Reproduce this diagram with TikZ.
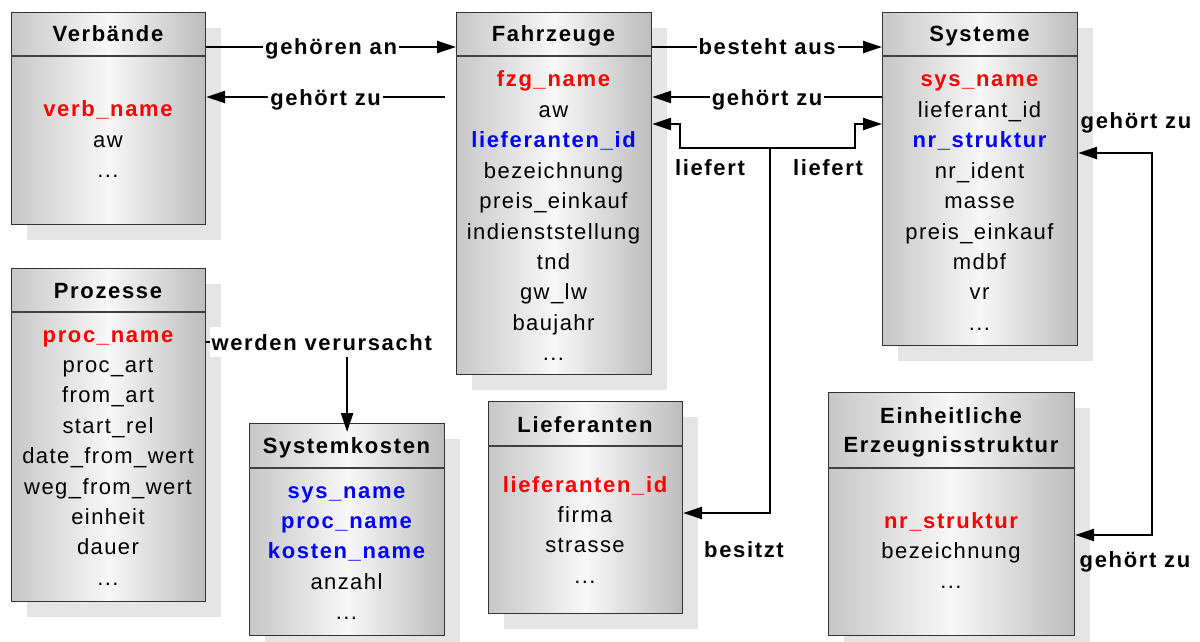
\documentclass[tikz,border=0pt]{standalone}
\usepackage{fontspec}
\setmainfont{Liberation Sans}[LetterSpace=6.5, BoldFeatures={LetterSpace=7.5}]
\usetikzlibrary{arrows.meta,shadows}

\definecolor{keyred}{RGB}{255,0,0}
\definecolor{keyblue}{RGB}{0,0,255}
\definecolor{shadowgray}{RGB}{229,229,229}

\newcommand{\tabfont}{\fontsize{11pt}{13.2pt}\selectfont}
\newcommand{\pk}[1]{\textcolor{keyred}{\bfseries #1}}
\newcommand{\fk}[1]{\textcolor{keyblue}{\bfseries #1}}
\newcommand{\moredots}{...}

\tikzset{
  tblbox/.style={rectangle, draw=black!80, line width=0.6pt, anchor=north west,
    inner sep=0pt, left color=black!22, right color=black!26, middle color=black!3,
    drop shadow={shadow xshift=7.5pt, shadow yshift=-7.5pt, fill=shadowgray, opacity=1}},
  hdrline/.style={draw=black!75, line width=0.6pt},
  title/.style={font=\tabfont\bfseries, anchor=base, inner sep=0pt},
  cell/.style={font=\tabfont, anchor=base, inner sep=0pt},
  tip/.style={-{Triangle[length=9.5pt,width=6pt]}},
  conn/.style={line width=1.2pt, tip},
  plain/.style={line width=1.2pt},
  rel/.style={font=\tabfont\bfseries, fill=white, inner xsep=1pt, inner ysep=3.5pt,
    anchor=base, yshift=-4pt},
  note/.style={font=\tabfont\bfseries, anchor=base, inner sep=0pt},
}

\begin{document}
\begin{tikzpicture}[x=0.5pt,y=-0.5pt]
\useasboundingbox (0,0) rectangle (1200,642);
\fill[white] (0,0) rectangle (1200,642);

% ---- tables ----
\node[tblbox, minimum width=97pt,   minimum height=106pt]   (verb)  at (11,12)   {};
\node[tblbox, minimum width=97.5pt, minimum height=181pt]   (fzg)   at (456,12)  {};
\node[tblbox, minimum width=97.5pt, minimum height=166.5pt] (sys)   at (882,12)  {};
\node[tblbox, minimum width=97pt,   minimum height=166.5pt] (proz)  at (11,268)  {};
\node[tblbox, minimum width=97.5pt, minimum height=106pt]   (skost) at (249,423) {};
\node[tblbox, minimum width=97pt,   minimum height=106pt]   (lief)  at (488,401) {};
\node[tblbox, minimum width=123pt,  minimum height=121.5pt] (ein)   at (828,392) {};

% header separators
\draw[hdrline] (verb.north west)  ++(0,44) -- ++(194,0);
\draw[hdrline] (fzg.north west)   ++(0,44) -- ++(195,0);
\draw[hdrline] (sys.north west)   ++(0,44) -- ++(195,0);
\draw[hdrline] (proz.north west)  ++(0,44) -- ++(194,0);
\draw[hdrline] (skost.north west) ++(0,45) -- ++(195,0);
\draw[hdrline] (lief.north west)  ++(0,45) -- ++(194,0);
\draw[hdrline] (ein.north west)   ++(0,76) -- ++(246,0);

% headers
\node[title] (verb-h)  at (108,42)    {Verbände};
\node[title] (fzg-h)   at (553.5,42)  {Fahrzeuge};
\node[title] (sys-h)   at (979.5,42)  {Systeme};
\node[title] (proz-h)  at (108,298)   {Prozesse};
\node[title] (skost-h) at (346.5,453) {Systemkosten};
\node[title] (lief-h)  at (585,432)   {Lieferanten};
\node[title] (ein-h1)  at (951,423)   {Einheitliche};
\node[title] (ein-h2)  at (951,452)   {Erzeugnisstruktur};

% attribute rows
\foreach \t [count=\i from 0] in {{\pk{verb\_name}},aw,\moredots}
  \node[cell] (verb-r\i) at (108,117+30.4*\i) {\t};
\foreach \t [count=\i from 0] in {{\pk{fzg\_name}},aw,{\fk{lieferanten\_id}},bezeichnung,
    preis\_einkauf,indienststellung,tnd,gw\_lw,baujahr,\moredots}
  \node[cell] (fzg-r\i) at (553.5,87+30.4*\i) {\t};
\foreach \t [count=\i from 0] in {{\pk{sys\_name}},lieferant\_id,{\fk{nr\_struktur}},nr\_ident,
    masse,preis\_einkauf,mdbf,vr,\moredots}
  \node[cell] (sys-r\i) at (979.5,87+30.4*\i) {\t};
\foreach \t [count=\i from 0] in {{\pk{proc\_name}},proc\_art,from\_art,start\_rel,
    date\_from\_wert,weg\_from\_wert,einheit,dauer,\moredots}
  \node[cell] (proz-r\i) at (108,342+30.4*\i) {\t};
\foreach \t [count=\i from 0] in {{\fk{sys\_name}},{\fk{proc\_name}},{\fk{kosten\_name}},anzahl,\moredots}
  \node[cell] (skost-r\i) at (346.5,498+30.4*\i) {\t};
\foreach \t [count=\i from 0] in {{\pk{lieferanten\_id}},firma,strasse,\moredots}
  \node[cell] (lief-r\i) at (585,492+30.4*\i) {\t};
\foreach \t [count=\i from 0] in {{\pk{nr\_struktur}},bezeichnung,\moredots}
  \node[cell] (ein-r\i) at (951,528+30.4*\i) {\t};

% ---- relations ----
\draw[conn] (verb.east |- 0,47) -- node[rel] (r1) {gehören an} (fzg.west |- 0,47);
\coordinate (gzstart) at (445,97);
\draw[conn] (gzstart) -- node[rel] (r2) {gehört zu} (verb.east |- 0,97);
\draw[conn] (fzg.east |- 0,47) -- node[rel] (r3) {besteht aus} (sys.west |- 0,47);
\draw[conn] (sys.west |- 0,97) -- node[rel] (r4) {gehört zu} (fzg.east |- 0,97);

% supplier fork
\coordinate (lfj) at (770,148);
\draw[conn] (lfj) -| (680,124) -- (fzg.east |- 0,124);
\draw[conn] (lfj) -| (855,124) -- (sys.west |- 0,124);
\draw[conn] (lfj) |- (lief.east |- 0,513);
\node[note] (n1) at (710,176) {liefert};
\node[note] (n2) at (828,176) {liefert};
\node[note] (n3) at (744,557) {besitzt};

% structure link
\draw[plain, {Triangle[length=9.5pt,width=6pt]}-{Triangle[length=9.5pt,width=6pt]}]
  (sys.east |- 0,153) -| (1152,535) -- (ein.east |- 0,535);
\node[note] (n4) at (1136,129) {gehört zu};
\node[note] (n5) at (1135,567) {gehört zu};

% process costs
\draw[conn, shorten >=-4.5pt] (proz.east |- 0,342) -| node[rel, pos=0.41] (r5) {werden verursacht} (skost.north);
\end{tikzpicture}
\end{document}
